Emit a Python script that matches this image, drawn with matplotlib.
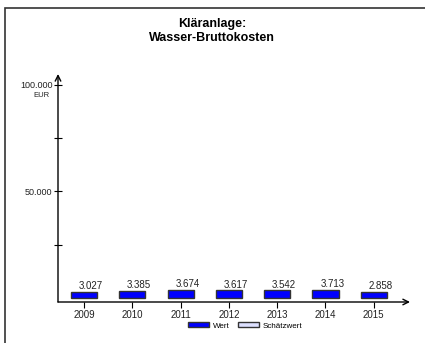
import matplotlib
matplotlib.use("Agg")
import matplotlib.pyplot as plt
from matplotlib.patches import Patch, Rectangle

plt.rcParams['font.family'] = ['Liberation Sans', 'DejaVu Sans']

years = ['2009', '2010', '2011', '2012', '2013', '2014', '2015']
werte = [3027, 3385, 3674, 3617, 3542, 3713, 2858]
wert_labels = ['3.027', '3.385', '3.674', '3.617', '3.542', '3.713', '2.858']

COLOR_BAR = '#0000FF'
COLOR_EDGE = '#333333'

fig = plt.figure(figsize=(4.25, 3.43), dpi=100)

# Rahmen
fig.patches.append(Rectangle((5 / 425, -0.01), 1.0, (343 - 8) / 343 + 0.01,
                             transform=fig.transFigure, fill=False,
                             edgecolor='#333333', linewidth=1.2))

ax = fig.add_axes([58 / 425, (343 - 302) / 343, (410 - 58) / 425, (302 - 74) / 343])
x = list(range(len(years)))
ax.bar(x, werte, width=0.54, color=COLOR_BAR, edgecolor=COLOR_EDGE, linewidth=1.0)

for xi, v, lab in zip(x, werte, wert_labels):
    ax.annotate(lab, (xi, v), xytext=(5, 0.5), textcoords='offset points',
                ha='center', va='bottom', fontsize=7, color='#222222')

ax.set_xlim(-0.538, 6.75)
ax.set_ylim(-1900, 105100)

for s in ax.spines.values():
    s.set_visible(False)
# Achsen mit Pfeilen
ax.annotate('', xy=(1.0, 0), xytext=(0, 0), xycoords='axes fraction',
            arrowprops=dict(arrowstyle='->', lw=1.0, color='black', shrinkA=0, shrinkB=0))
ax.annotate('', xy=(0, 1.0), xytext=(0, 0), xycoords='axes fraction',
            arrowprops=dict(arrowstyle='->', lw=1.0, color='black', shrinkA=0, shrinkB=0))

ax.set_xticks(x)
ax.set_xticklabels(years, fontsize=7, color='#222222')
ax.tick_params(axis='x', direction='out', length=4, width=0.8, pad=2)

ax.set_yticks([25000, 50000, 75000, 100000])
ax.set_yticklabels(['', '50.000', '', '100.000'], fontsize=6.5, color='#222222')
ax.tick_params(axis='y', direction='inout', length=6, width=0.8, pad=1)
ax.annotate('EUR', (0, 100000), xytext=(-12, -8), textcoords='offset points',
            xycoords=('axes fraction', 'data'), ha='center', va='center',
            fontsize=5.5, color='#222222')

fig.text(212 / 425, 1 - 31 / 343, 'Kläranlage:\nWasser-Bruttokosten', ha='center',
         va='center', fontsize=9, fontweight='bold', linespacing=1.25)

handles = [Patch(facecolor=COLOR_BAR, edgecolor=COLOR_EDGE, label='Wert'),
           Patch(facecolor='#dde0ff', edgecolor=COLOR_EDGE, label='Schätzwert')]
fig.legend(handles=handles, loc='center', bbox_to_anchor=(245 / 425, 1 - 326 / 343),
           ncol=2, frameon=False, fontsize=5.8, handlelength=2.6, handleheight=0.6,
           columnspacing=1.0, handletextpad=0.5)

fig.savefig('out.png', dpi=100)
